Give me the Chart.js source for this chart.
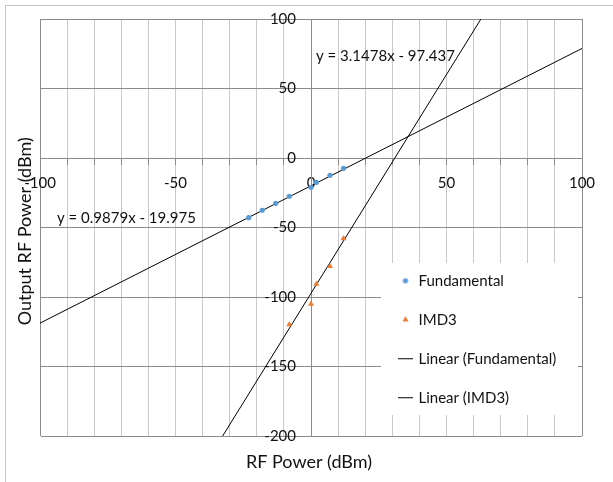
<!DOCTYPE html>
<html><head><meta charset="utf-8">
<script src="https://cdn.jsdelivr.net/npm/chart.js@4.4.1/dist/chart.umd.min.js"></script>
<style>html,body{margin:0;padding:0;background:#fff}canvas{display:block}</style>
</head><body>
<canvas id="c" width="613" height="482"></canvas>
<script>
// ---- data ----
const fundamentalX = [-23, -18, -13, -8, 0, 2, 7, 12];
const fundamentalY = [-42.9, -37.6, -32.6, -27.5, -21.1, -17.5, -12.4, -7.4];
const imd3X = [-8, 0, 2, 7, 12];
const imd3Y = [-119.8, -105.0, -90.6, -77.9, -58.0];
const fundTrendX = [-100, 100];
const fundTrendY = [-118.8, 78.8];
const imd3TrendX = [-32.6, 62.7];
const imd3TrendY = [-200, 100];
const seriesNames = ['Fundamental', 'IMD3', 'Linear (Fundamental)', 'Linear (IMD3)'];
const fundEquation = 'y = 0.9879x - 19.975';
const imd3Equation = 'y = 3.1478x - 97.437';
const xTitle = 'RF Power (dBm)';
const yTitle = 'Output RF Power (dBm)';
const xMin = -100, xMax = 100, xStep = 10, xLabelEvery = 50;
const yMin = -200, yMax = 100, yStep = 50;

const toPoints = (xs, ys) => xs.map((x, i) => ({x: x, y: ys[i]}));

const TEXT = '#111111';
const GRID_DARK = '#8c8c8c';
const GRID_LIGHT = '#c8c8c8';
const BLUE = '#5B9BD5';
const ORANGE = '#ED7D31';

function makeIcon(kind) {
  const c = document.createElement('canvas');
  if (kind === 'circle') {
    c.width = 8; c.height = 8;
    const g = c.getContext('2d');
    g.fillStyle = BLUE; g.beginPath(); g.arc(4, 4, 2.6, 0, Math.PI * 2); g.fill();
  } else if (kind === 'triangle') {
    c.width = 9; c.height = 9;
    const g = c.getContext('2d');
    g.fillStyle = ORANGE; g.beginPath();
    g.moveTo(4.5, 1); g.lineTo(7.6, 6.3); g.lineTo(1.4, 6.3); g.closePath(); g.fill();
  } else {
    c.width = 15; c.height = 3;
    const g = c.getContext('2d');
    g.fillStyle = '#000'; g.fillRect(0, 1, 15, 1);
  }
  return c;
}
const legendIcons = [makeIcon('circle'), makeIcon('triangle'), makeIcon('line'), makeIcon('line')];

const decor = {
  id: 'decor',
  beforeDraw(chart) {
    const ctx = chart.ctx;
    ctx.save();
    ctx.fillStyle = '#fff';
    ctx.fillRect(0, 0, chart.width, chart.height);
    ctx.strokeStyle = '#c4c4c4';
    ctx.lineWidth = 1;
    ctx.strokeRect(5.5, 5.5, chart.width + 20, chart.height + 20);
    ctx.restore();
    const xs = chart.scales.x, ys = chart.scales.y;
    const y0 = ys.getPixelForValue(0);
    xs.getLabelItems(chart.chartArea).forEach(it => {
      it.options.textBaseline = 'middle';
      it.textOffset = 0;
      it.options.translation[1] = y0 + 25.5;
    });
  },
  afterLayout(chart) {
    // the value axis crosses the horizontal axis at x = 0
    const xs = chart.scales.x, ys = chart.scales.y;
    const x0 = xs.getPixelForValue(0);
    ys.left = x0 - 80; ys.right = x0; ys.width = 80;
    const lg = chart.legend;
    const w = lg.width, h = lg.height;
    lg.left = 376; lg.top = 249.2;
    lg.right = lg.left + w; lg.bottom = lg.top + h;
  },
  afterDatasetsDraw(chart) {
    const ctx = chart.ctx;
    ctx.save();
    ctx.fillStyle = '#fff';
    ctx.fillRect(381, 263, 197, 152);
    ctx.restore();
    chart.legend.draw();
    ctx.save();
    ctx.fillStyle = TEXT;
    ctx.font = '15px Lato';
    ctx.textBaseline = 'alphabetic';
    ctx.textAlign = 'left';
    ctx.fillText(imd3Equation, 316, 60.5);
    ctx.fillText(fundEquation, 57, 222.5);
    ctx.font = '18px Lato';
    ctx.textAlign = 'center';
    ctx.fillText(xTitle, 309, 468.3);
    ctx.translate(30.5, 231.3);
    ctx.rotate(-Math.PI / 2);
    ctx.fillText(yTitle, 0, 0);
    ctx.restore();
  }
};

new Chart(document.getElementById('c'), {
  type: 'scatter',
  data: {
    datasets: [
      { label: seriesNames[0], data: toPoints(fundamentalX, fundamentalY), pointStyle: 'circle',
        pointRadius: 2.6, backgroundColor: BLUE, borderColor: BLUE, borderWidth: 0 },
      { label: seriesNames[1], data: toPoints(imd3X, imd3Y), pointStyle: 'triangle',
        pointRadius: 3.5, backgroundColor: ORANGE, borderColor: ORANGE, borderWidth: 0 },
      { label: seriesNames[2], data: toPoints(fundTrendX, fundTrendY), showLine: true,
        pointRadius: 0, borderColor: '#000', backgroundColor: '#000', borderWidth: 1 },
      { label: seriesNames[3], data: toPoints(imd3TrendX, imd3TrendY), showLine: true,
        pointRadius: 0, borderColor: '#000', backgroundColor: '#000', borderWidth: 1 }
    ]
  },
  options: {
    responsive: false,
    animation: false,
    devicePixelRatio: 1,
    layout: { padding: { left: 40, top: 19, right: 31, bottom: 46 } },
    scales: {
      x: {
        type: 'linear', min: xMin, max: xMax, position: { y: 0 },
        ticks: {
          stepSize: xStep, autoSkip: false, maxRotation: 0, minRotation: 0,
          callback: v => (v % xLabelEvery === 0 ? String(v) : ''),
          font: { family: 'Lato', size: 15 }, color: TEXT, padding: 10
        },
        grid: {
          color: c => (c.tick && (c.tick.value === xMin || c.tick.value === xMax)) ? GRID_DARK : GRID_LIGHT,
          lineWidth: 1, drawTicks: true, tickLength: 6, tickColor: GRID_DARK
        },
        border: { display: true, color: GRID_DARK, width: 1 }
      },
      y: {
        type: 'linear', min: yMin, max: yMax, position: 'left',
        afterFit: s => { s.width = 0; },
        ticks: {
          stepSize: yStep, font: { family: 'Lato', size: 15 }, color: TEXT, padding: 9
        },
        grid: { color: GRID_DARK, lineWidth: 1, drawTicks: true, tickLength: 6, tickColor: GRID_DARK },
        border: { display: true, color: GRID_DARK, width: 1 }
      }
    },
    plugins: {
      tooltip: { enabled: false },
      legend: {
        display: true, position: 'chartArea', align: 'start',
        labels: {
          usePointStyle: true, pointStyleWidth: 11, padding: 24,
          font: { family: 'Lato', size: 15 }, color: TEXT,
          generateLabels(chart) {
            const items = Chart.defaults.plugins.legend.labels.generateLabels(chart);
            items.forEach((it, i) => { it.pointStyle = legendIcons[i]; it.fontColor = TEXT; });
            return items;
          }
        }
      }
    }
  },
  plugins: [decor]
});
</script>
</body></html>
